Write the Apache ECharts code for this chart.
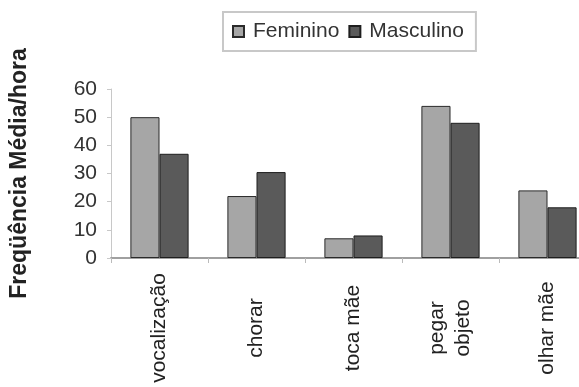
<!DOCTYPE html>
<html>
<head>
<meta charset="utf-8">
<script src="https://cdn.jsdelivr.net/npm/echarts@6/dist/echarts.min.js"></script>
<style>
html,body{margin:0;padding:0;background:#fff;overflow:hidden;}
#chart{width:600px;height:387px;}
</style>
</head>
<body>
<div id="chart"></div>
<script>
var categories = ['vocalização', 'chorar', 'toca mãe', 'pegar\nobjeto', 'olhar mãe'];
var feminino = [50, 22, 7, 54, 24];
var masculino = [37, 30.5, 8, 48, 18];
var seriesNames = ['Feminino', 'Masculino'];
var yTitle = 'Freqüência Média/hora';

var FONT = '"Liberation Sans", Arial, sans-serif';
var chart = echarts.init(document.getElementById('chart'), null, {renderer: 'canvas'});
chart.setOption({
  backgroundColor: '#ffffff',
  animation: false,
  legend: {
    data: seriesNames,
    left: 223,
    top: 12,
    orient: 'horizontal',
    padding: [9, 12, 9, 9],
    itemGap: 9,
    itemWidth: 11,
    itemHeight: 11,
    icon: 'rect',
    borderColor: '#c8c8c8',
    borderWidth: 2,
    textStyle: {fontFamily: FONT, fontSize: 21, color: '#333', padding: [0, 0, 0, 4]}
  },
  grid: {left: 111, top: 89, width: 485, height: 169, containLabel: false},
  xAxis: {
    type: 'category',
    data: categories,
    axisLine: {show: true, lineStyle: {color: '#a0a0a0', width: 2}},
    axisTick: {show: true, alignWithLabel: false, length: 5, lineStyle: {color: '#bbb'}},
    axisLabel: {
      rotate: 90,
      align: 'center',
      verticalAlign: 'middle',
      margin: 70,
      fontFamily: FONT,
      fontSize: 21,
      lineHeight: 26,
      color: '#222',
      interval: 0
    }
  },
  yAxis: {
    type: 'value',
    min: 0,
    max: 60,
    interval: 10,
    name: yTitle,
    nameLocation: 'middle',
    nameGap: 80,
    nameTextStyle: {fontFamily: FONT, fontSize: 23, fontWeight: 'bold', color: '#222'},
    axisLine: {show: true, lineStyle: {color: '#c8c8c8', width: 1}},
    axisTick: {show: true, length: 4, lineStyle: {color: '#c8c8c8'}},
    splitLine: {show: false},
    axisLabel: {fontFamily: FONT, fontSize: 21, color: '#333', margin: 14}
  },
  series: [
    {
      name: seriesNames[0],
      type: 'bar',
      data: feminino,
      barGap: '0%',
      barCategoryGap: '40%',
      itemStyle: {color: '#a6a6a6', borderColor: '#2a2a2a', borderWidth: 1}
    },
    {
      name: seriesNames[1],
      type: 'bar',
      data: masculino,
      barGap: '0%',
      barCategoryGap: '40%',
      itemStyle: {color: '#5a5a5a', borderColor: '#1e1e1e', borderWidth: 1}
    }
  ]
});
</script>
</body>
</html>
